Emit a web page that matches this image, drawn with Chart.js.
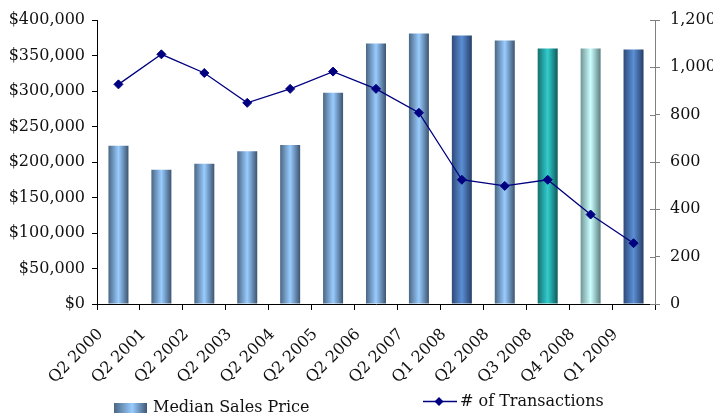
<!DOCTYPE html>
<html>
<head>
<meta charset="utf-8">
<script src="https://cdn.jsdelivr.net/npm/chart.js@4.4.1/dist/chart.umd.min.js"></script>
<style>
  html, body { margin: 0; padding: 0; background: #fff; }
  #wrap { position: relative; width: 713px; height: 413px; overflow: hidden; }
  #chart { position: absolute; left: 0; top: 0; }
  .leg { position: absolute; font: 16px "DejaVu Serif", serif; line-height: 16px; color: #111; white-space: nowrap; }
  .leg .box { position: absolute; }
</style>
</head>
<body>
<div id="wrap">
  <canvas id="chart" width="713" height="413"></canvas>
  <div class="leg" id="leg1" style="left:114px; top:399px;">
    <span class="box" style="left:0; top:4px; width:33px; height:12px; background:linear-gradient(to right,#4a6684,#99ccff 55%,#3f5875);"></span>
    <span style="position:absolute; left:39px; top:0;">Median Sales Price</span>
  </div>
  <div class="leg" id="leg2" style="left:423px; top:393px;">
    <canvas id="legLine" width="34" height="16" style="position:absolute; left:0; top:0;"></canvas>
    <span style="position:absolute; left:37px; top:0;">&#35; of Transactions</span>
  </div>
</div>
<script>
// data
const periods = ['Q2 2000', 'Q2 2001', 'Q2 2002', 'Q2 2003', 'Q2 2004', 'Q2 2005', 'Q2 2006',
                 'Q2 2007', 'Q1 2008', 'Q2 2008', 'Q3 2008', 'Q4 2008', 'Q1 2009'];
const medianPrice = [223000, 189000, 197500, 215000, 224000, 297500, 367000,
                     381000, 378000, 371000, 360000, 360000, 358500];
const transactions = [928, 1055, 976, 850, 909, 982, 909, 808, 525, 499, 525, 378, 257];
const priceTicks = [0, 50000, 100000, 150000, 200000, 250000, 300000, 350000, 400000];
const countTicks = [0, 200, 400, 600, 800, 1000, 1200];

// bar colours (centre tone, edges darkened)
const barTones = ['#99ccff', '#99ccff', '#99ccff', '#99ccff', '#99ccff', '#99ccff', '#99ccff',
                  '#99ccff', '#5b8fd6', '#99ccff', '#33cccc', '#ccffff', '#5b8fd6'];
const edgeTones = {
    '#99ccff': ['#4a6684', '#3c5470'],
    '#5b8fd6': ['#2e4a78', '#263e66'],
    '#33cccc': ['#137070', '#0e5a5a'],
    '#ccffff': ['#6f9595', '#5a7e7e']
};
const BAR_PCT = 0.466;

function barGradient(ctx) {
    const chart = ctx.chart;
    const tone = barTones[ctx.dataIndex] || '#99ccff';
    const xs = chart.scales.x;
    if (ctx.dataIndex === undefined || !xs || !chart.chartArea) return tone;
    const cx = xs.getPixelForValue(ctx.dataIndex);
    const w = (xs.width / periods.length) * BAR_PCT;
    const g = chart.ctx.createLinearGradient(cx - w / 2, 0, cx + w / 2, 0);
    const edges = edgeTones[tone];
    g.addColorStop(0, edges[0]);
    g.addColorStop(0.5, tone);
    g.addColorStop(1, edges[1]);
    return g;
}

// inward half of the right axis ticks
const crossTicks = {
    id: 'crossTicks',
    afterDraw(chart) {
        const s = chart.scales.y1;
        const c = chart.ctx;
        c.save();
        c.strokeStyle = '#808080';
        c.lineWidth = 1;
        countTicks.forEach(v => {
            const y = Math.round(s.getPixelForValue(v)) + 0.5;
            c.beginPath();
            c.moveTo(s.left - 5, y);
            c.lineTo(s.left, y);
            c.stroke();
        });
        c.restore();
    }
};

const font = { family: '"DejaVu Serif", serif', size: 16 };

new Chart(document.getElementById('chart'), {
    type: 'bar',
    data: {
        labels: periods,
        datasets: [{
            type: 'line',
            label: '# of Transactions',
            data: transactions,
            yAxisID: 'y1',
            borderColor: '#000080',
            borderWidth: 1.3,
            backgroundColor: '#000080',
            pointStyle: 'rectRot',
            pointRadius: 4.5,
            pointBorderWidth: 1,
            pointBackgroundColor: '#000080',
            pointBorderColor: '#000080',
            tension: 0,
            order: 0
        }, {
            label: 'Median Sales Price',
            data: medianPrice,
            yAxisID: 'y',
            backgroundColor: barGradient,
            borderWidth: 0,
            barPercentage: BAR_PCT,
            categoryPercentage: 1,
            order: 1
        }]
    },
    options: {
        responsive: false,
        animation: false,
        layout: { padding: { top: 20, left: 0, right: 0, bottom: 0 } },
        plugins: {
            legend: { display: false },
            tooltip: { enabled: false }
        },
        scales: {
            x: {
                grid: { drawOnChartArea: false, color: '#000', tickLength: 6, offset: true },
                border: { color: '#000' },
                ticks: {
                    color: '#111', font: font, autoSkip: false,
                    minRotation: 45, maxRotation: 45, padding: 15, labelOffset: -18
                },
                afterFit: s => { s.height = 413 - 304; }
            },
            y: {
                position: 'left',
                min: 0, max: 400000,
                afterBuildTicks: s => { s.ticks = priceTicks.map(v => ({ value: v })); },
                grid: { drawOnChartArea: false, color: '#000', tickLength: 5 },
                border: { color: '#000' },
                ticks: {
                    color: '#111', font: font, padding: 7,
                    callback: v => '$' + v.toLocaleString('en-US')
                },
                afterFit: s => { s.width = 97; }
            },
            y1: {
                position: 'right',
                min: 0, max: 1200,
                afterBuildTicks: s => { s.ticks = countTicks.map(v => ({ value: v })); },
                grid: { drawOnChartArea: false, color: '#808080', tickLength: 5 },
                border: { color: '#808080' },
                ticks: {
                    color: '#111', font: font, padding: 10,
                    callback: v => v.toLocaleString('en-US')
                },
                afterFit: s => { s.width = 58; }
            }
        }
    },
    plugins: [crossTicks]
});

// legend line marker
const lc = document.getElementById('legLine').getContext('2d');
lc.strokeStyle = '#000080';
lc.lineWidth = 1.5;
lc.beginPath();
lc.moveTo(0, 8.5);
lc.lineTo(34, 8.5);
lc.stroke();
lc.fillStyle = '#000080';
lc.beginPath();
lc.moveTo(16, 4);
lc.lineTo(20.5, 8.5);
lc.lineTo(16, 13);
lc.lineTo(11.5, 8.5);
lc.closePath();
lc.fill();
</script>
</body>
</html>
